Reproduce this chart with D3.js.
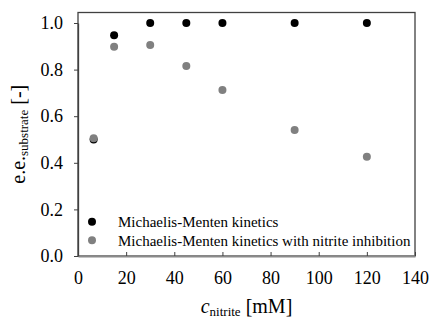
<html>
<head>
<style>
  body { margin: 0; background: #fff; }
</style>
<script src="https://d3js.org/d3.v7.min.js"></script>
</head>
<body>
<script>
// nitrite concentration (mM)
const concentrations = [6.5, 15, 30, 45, 60, 90, 120];
// e.e. substrate
const mmKinetics = [0.5, 0.947, 1.0, 1.0, 1.0, 1.0, 1.0];
const mmInhibition = [0.505, 0.898, 0.906, 0.815, 0.712, 0.541, 0.426];
const seriesNames = ["Michaelis-Menten kinetics", "Michaelis-Menten kinetics with nitrite inhibition"];
const seriesColors = ["#000000", "#808080"];
const xTicks = [0, 20, 40, 60, 80, 100, 120, 140];
const yTicks = [0, 0.2, 0.4, 0.6, 0.8, 1.0];

const w = 430, h = 320;
const plotLeft = 78, plotRight = 415, plotTop = 12.5, plotBottom = 256;
const serif = "'Liberation Serif', 'Times New Roman', serif";

const svg = d3.select("body").append("svg")
    .attr("width", w)
    .attr("height", h)
    .attr("font-family", serif);

const x = d3.scaleLinear().domain([0, 140]).range([plotLeft, plotRight]);
const y = d3.scaleLinear().domain([0, 1]).range([plotBottom, 23]);

// frame
svg.append("rect")
    .attr("x", plotLeft).attr("y", plotTop)
    .attr("width", plotRight - plotLeft).attr("height", plotBottom - plotTop)
    .attr("fill", "none")
    .attr("stroke", "#404040")
    .attr("stroke-width", 1.3);

const xAxis = svg.append("g")
    .attr("transform", "translate(0," + plotBottom + ")")
    .call(d3.axisBottom(x).tickValues(xTicks).tickSizeInner(-4).tickSizeOuter(0).tickPadding(15));
xAxis.attr("font-family", serif).attr("font-size", 18);
xAxis.select(".domain").attr("stroke", "#8a8a8a").attr("stroke-width", 2);
xAxis.selectAll(".tick line").attr("stroke", "#404040");
xAxis.selectAll("text").attr("fill", "#000");

const yAxis = svg.append("g")
    .attr("transform", "translate(" + plotLeft + ",0)")
    .call(d3.axisLeft(y).tickValues(yTicks).tickFormat(d3.format(".1f")).tickSizeInner(4).tickSizeOuter(0).tickPadding(11));
yAxis.attr("font-family", serif).attr("font-size", 18);
yAxis.select(".domain").attr("stroke", "#404040").attr("stroke-width", 1.3);
yAxis.selectAll(".tick line").attr("stroke", "#404040");
yAxis.selectAll("text").attr("fill", "#000");

// points
const series = [mmKinetics, mmInhibition];
series.forEach((vals, si) => {
  svg.append("g").selectAll("circle")
    .data(vals)
    .enter()
    .append("circle")
    .attr("cx", (d, i) => x(concentrations[i]))
    .attr("cy", d => y(d))
    .attr("r", 4)
    .attr("fill", seriesColors[si]);
});

// legend
const legend = svg.append("g");
seriesNames.forEach((name, i) => {
  legend.append("circle")
    .attr("cx", 92).attr("cy", 221.7 + i * 18.5)
    .attr("r", 4)
    .attr("fill", seriesColors[i]);
  legend.append("text")
    .attr("x", 118).attr("y", 227 + i * 18.5)
    .attr("font-size", 15)
    .attr("fill", "#000")
    .text(name);
});

// axis titles
const xt = svg.append("text")
    .attr("x", (plotLeft + plotRight) / 2).attr("y", 313)
    .attr("text-anchor", "middle")
    .attr("font-size", 20);
xt.append("tspan").attr("font-style", "italic").text("c");
xt.append("tspan").attr("font-size", 13).attr("dy", 3).text("nitrite");
xt.append("tspan").attr("dy", -3).text(" [mM]");

const yt = svg.append("text")
    .attr("transform", "translate(25," + (plotTop + plotBottom) / 2 + ") rotate(-90)")
    .attr("text-anchor", "middle")
    .attr("font-size", 20);
yt.append("tspan").text("e.e.");
yt.append("tspan").attr("font-size", 13).attr("dy", 3).text("substrate");
yt.append("tspan").attr("dy", -3).text(" [-]");
</script>
</body>
</html>
